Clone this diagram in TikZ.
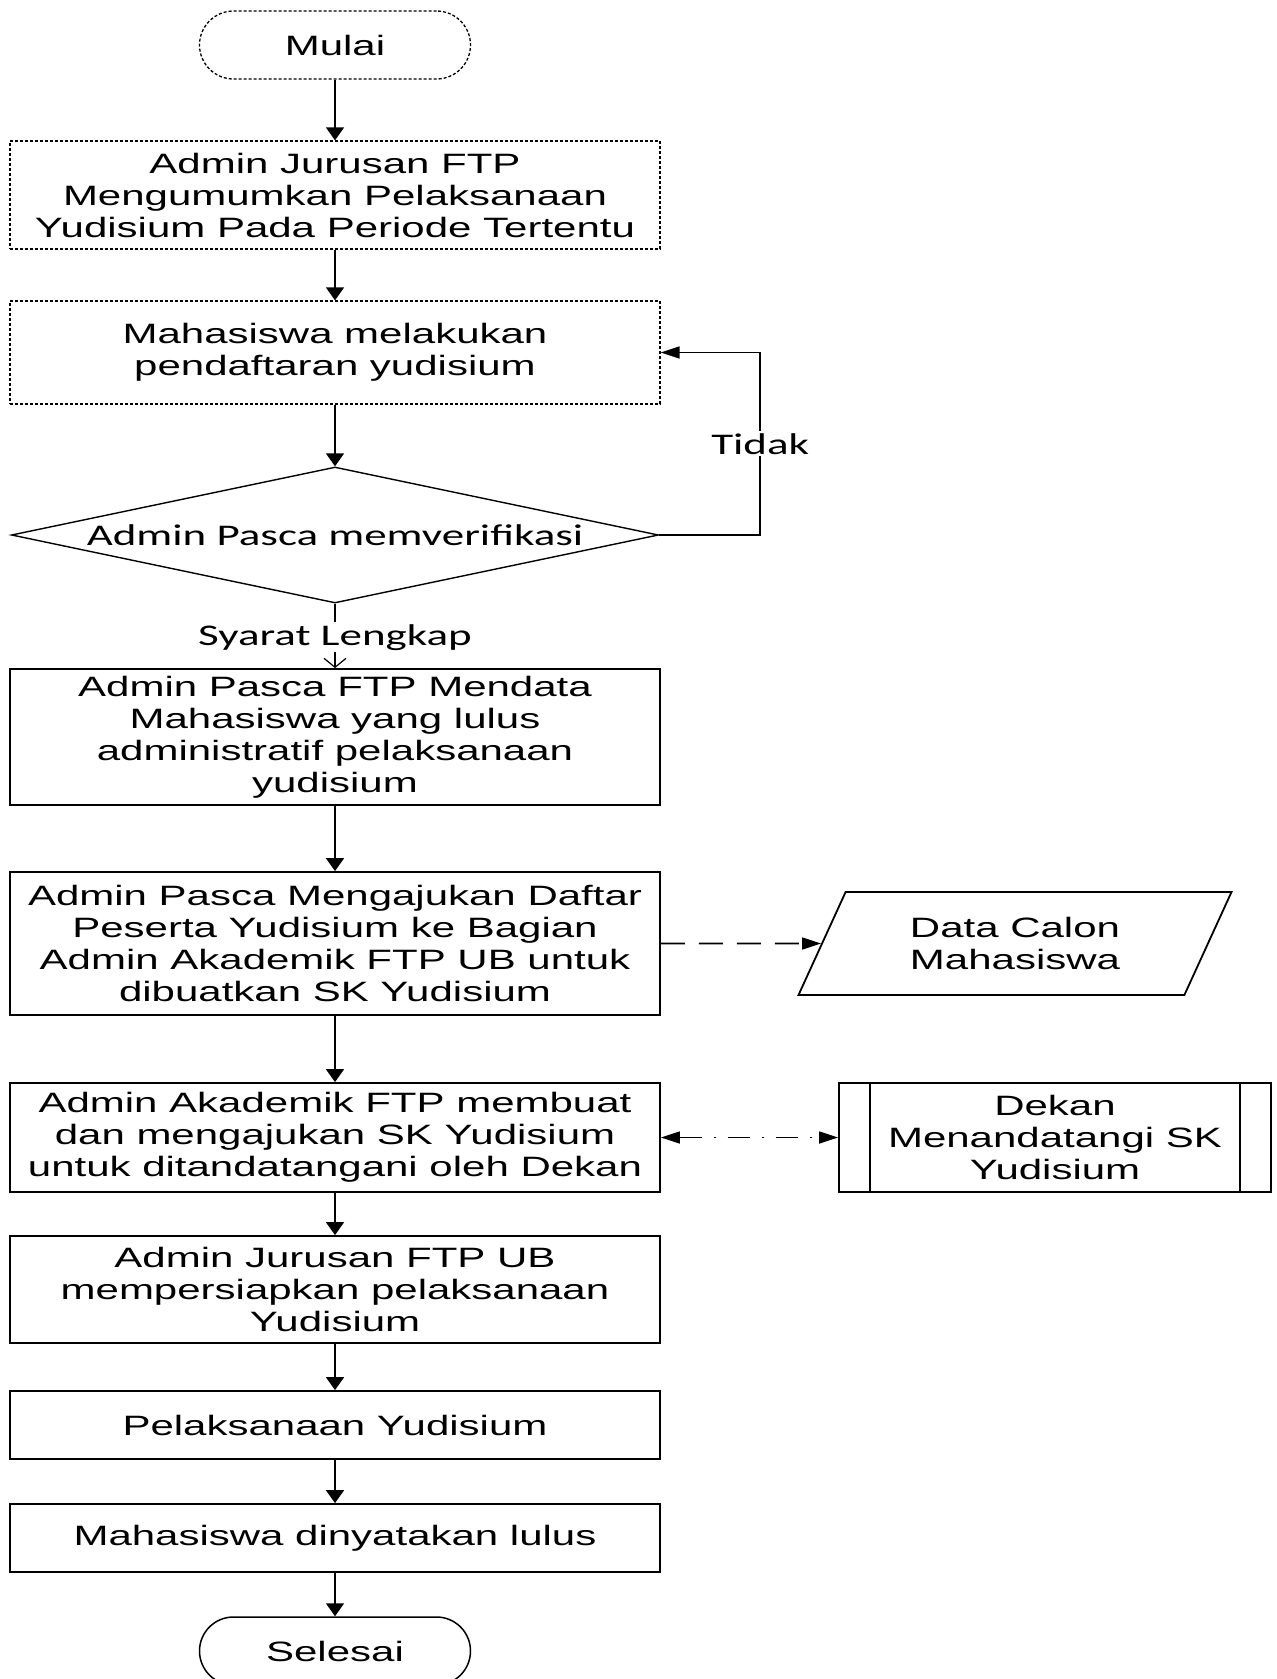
\documentclass[tikz,border=0pt]{standalone}
\usepackage{fontspec}
\setmainfont{Liberation Sans}[FakeStretch=1.5]
\newfontfamily\calibrifont{Carlito}[FakeStretch=1.5]
\usetikzlibrary{shapes.geometric,arrows.meta}
\tikzstyle{terminator} = [rectangle, draw, line width=1.5pt, align=center, rounded corners=34pt, minimum width=271pt, minimum height=68pt]
\tikzstyle{process} = [rectangle, draw, line width=1.8pt, align=center, minimum width=650pt, inner sep=2pt]
\tikzstyle{dotbox} = [process, line width=1.3pt, dash pattern=on 3pt off 2pt]
\tikzstyle{decision} = [diamond, draw, line width=1.4pt, aspect=4.76, inner sep=0pt, minimum width=647pt, minimum height=136pt, font=\calibrifont\fontsize{30pt}{34pt}\selectfont]
\tikzstyle{io} = [trapezium, draw, line width=1.8pt, align=center, trapezium left angle=51.5, trapezium right angle=128.5, trapezium stretches body, minimum width=433pt, minimum height=103pt]
\tikzstyle{subprocess} = [rectangle, draw, line width=1.8pt, align=center, minimum width=432pt, minimum height=109pt]
\tikzstyle{branch} = [fill=white, inner sep=2pt, font=\calibrifont\fontsize{30pt}{34pt}\selectfont]
\tikzstyle{connector} = [line width=1.6pt, -{Triangle[length=13pt, width=18pt]}]
\tikzstyle{hconnector} = [line width=1.6pt, -{Triangle[length=19pt, width=12pt]}]
\tikzstyle{yesconnector} = [line width=1.2pt, -{Straight Barb[length=9pt, width=22pt]}]
\tikzstyle{dataflow} = [hconnector, dash pattern=on 24pt off 14pt]
\tikzstyle{signflow} = [line width=1.6pt, {Triangle[length=19pt, width=12pt]}-{Triangle[length=19pt, width=12pt]}, dash pattern=on 22pt off 12pt on 2pt off 12pt]

\begin{document}
\begin{tikzpicture}[x=1pt, y=1pt, node distance=150pt, every node/.style={font=\fontsize{28pt}{32pt}\selectfont}]
        \useasboundingbox (0,0) rectangle (1277,-1679);
        \node (mulai) [terminator, dash pattern=on 3pt off 2pt, line width=1.3pt] at (335,-45) {Mulai};
        \node (umumkan) [dotbox, below of = mulai, minimum height=108pt] {Admin Jurusan FTP \\ Mengumumkan Pelaksanaan \\ Yudisium Pada Periode Tertentu};
        \node (daftar) [dotbox, below of = umumkan, yshift = -7.5pt, minimum height=103pt] {Mahasiswa melakukan \\ pendaftaran yudisium};
        \node (verifikasi) [decision, below of = daftar, yshift = -32.5pt] {Admin Pasca memverifikasi};
        \node (mendata) [process, below of = verifikasi, yshift = -52pt, minimum height=136pt] {Admin Pasca FTP Mendata \\ Mahasiswa yang lulus \\ administratif pelaksanaan \\ yudisium};
        \node (ajukan) [process, below of = mendata, yshift = -56.5pt, minimum height=143pt] {Admin Pasca Mengajukan Daftar \\ Peserta Yudisium ke Bagian \\ Admin Akademik FTP UB untuk \\ dibuatkan SK Yudisium};
        \node (datacalon) [io, right of = ajukan, xshift = 530pt] {Data Calon \\ Mahasiswa};
        \node (skbuat) [process, below of = ajukan, yshift = -44pt, minimum height=109pt] {Admin Akademik FTP membuat \\ dan mengajukan SK Yudisium \\ untuk ditandatangani oleh Dekan};
        \node (dekan) [subprocess, right of = skbuat, xshift = 570pt] {Dekan \\ Menandatangi SK \\ Yudisium};
        \node (persiapan) [process, below of = skbuat, yshift = -2pt, minimum height=107pt] {Admin Jurusan FTP UB \\ mempersiapkan pelaksanaan \\ Yudisium};
        \node (pelaksanaan) [process, below of = persiapan, yshift = 14.5pt, minimum height=68pt] {Pelaksanaan Yudisium};
        \node (lulus) [process, below of = pelaksanaan, yshift = 37pt, minimum height=68pt] {Mahasiswa dinyatakan lulus};
        \node (selesai) [terminator, below of = lulus, yshift = 37pt] {Selesai};
        \draw [line width=1.8pt] ([xshift=32pt]dekan.north west) -- ([xshift=32pt]dekan.south west);
        \draw [line width=1.8pt] ([xshift=-32pt]dekan.north east) -- ([xshift=-32pt]dekan.south east);
        \draw [connector] (mulai) -- (umumkan);
        \draw [connector] (umumkan) -- (daftar);
        \draw [connector] (daftar) -- (verifikasi);
        \draw [hconnector] (verifikasi.east) -- ++(101,0) |- node[branch, pos=0.25] {Tidak} (daftar.east);
        \draw [yesconnector] (verifikasi.south) -- node[branch, pos=0.52] {Syarat Lengkap} (mendata.north);
        \draw [connector] (mendata) -- (ajukan);
        \draw [dataflow] (ajukan.east) -- (datacalon.west);
        \draw [connector] (ajukan) -- (skbuat);
        \draw [signflow] (skbuat.east) -- (dekan.west);
        \draw [connector] (skbuat) -- (persiapan);
        \draw [connector] (persiapan) -- (pelaksanaan);
        \draw [connector] (pelaksanaan) -- (lulus);
        \draw [connector] (lulus) -- (selesai);
    \end{tikzpicture}
\end{document}
